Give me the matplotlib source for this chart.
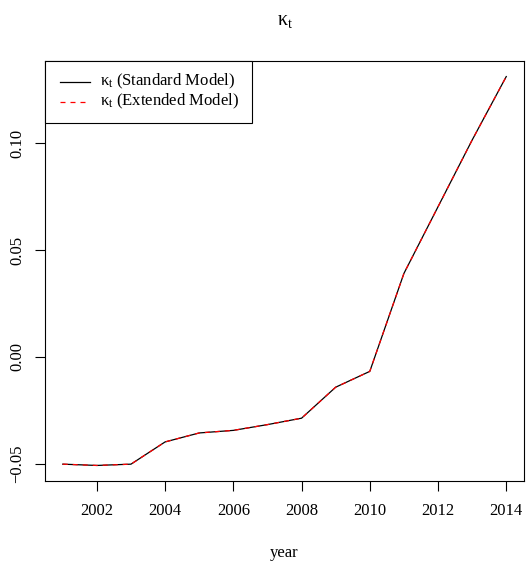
import matplotlib
matplotlib.use("Agg")
import matplotlib.pyplot as plt
from matplotlib.lines import Line2D
from matplotlib.patches import Rectangle

plt.rcParams['font.family'] = ['Liberation Serif', 'DejaVu Serif']
plt.rcParams['mathtext.fontset'] = 'custom'
plt.rcParams['mathtext.rm'] = 'Liberation Serif'
plt.rcParams['mathtext.it'] = 'Liberation Serif'
plt.rcParams['mathtext.bf'] = 'Liberation Serif:bold'

years = list(range(2001, 2015))
kappa_standard = [-0.0502, -0.0508, -0.0502, -0.0398, -0.0356, -0.0344, -0.0317,
                  -0.0287, -0.0142, -0.0068, 0.0390, 0.0702, 0.1014, 0.1311]
kappa_extended = [-0.0502, -0.0508, -0.0502, -0.0398, -0.0356, -0.0344, -0.0317,
                  -0.0287, -0.0142, -0.0068, 0.0390, 0.0702, 0.1014, 0.1311]
xticks = [2002, 2004, 2006, 2008, 2010, 2012, 2014]
yticks = [-0.05, 0.00, 0.05, 0.10]
ytick_labels = ["-0.05", "0.00", "0.05", "0.10"]
legend_labels = [r'$\kappa_t$ (Standard Model)', r'$\kappa_t$ (Extended Model)']

W, H = 526, 567
FS = 12
fig = plt.figure(figsize=(W / 100, H / 100), dpi=100)
ax = fig.add_axes([45 / W, 1 - 481 / H, (524 - 45) / W, (481 - 61) / H])

ax.plot(years, kappa_standard, color='black', lw=0.9, solid_joinstyle='round')
ax.plot(years, kappa_extended, color='red', lw=0.9, linestyle=(0, (4, 4)))

xmin, xmax = min(years), max(years)
xr = xmax - xmin
ax.set_xlim(xmin - 0.04 * xr, xmax + 0.04 * xr)
allv = kappa_standard + kappa_extended
ymin, ymax = min(allv), max(allv)
yr = ymax - ymin
ax.set_ylim(ymin - 0.04 * yr, ymax + 0.04 * yr)

ax.set_xticks(xticks)
ax.set_xticklabels([str(x) for x in xticks], fontsize=FS)
ax.set_yticks(yticks)
ax.set_yticklabels([s.replace('-', '\u2212') for s in ytick_labels], fontsize=FS,
                   rotation=90, va='center')
ax.tick_params(direction='out', length=7, width=0.8)
ax.tick_params(axis='x', pad=9)
ax.tick_params(axis='y', pad=7)
for s in ax.spines.values():
    s.set_linewidth(0.8)

fig.text(284.5 / W, 1 - 553 / H, 'year', ha='center', va='center', fontsize=FS)
fig.text(284.5 / W, 1 - 20 / H, r'$\kappa_t$', ha='center', va='center', fontsize=FS * 1.2)

# legend drawn in figure pixel coordinates
def fx(px):
    return px / W

def fy(py):
    return 1 - py / H

fig.add_artist(Rectangle((fx(45), fy(123)), fx(252) - fx(45), fy(61) - fy(123),
                         transform=fig.transFigure, fill=True, facecolor='white',
                         edgecolor='black', lw=0.8, zorder=5))
rows = [82, 102]
styles = [dict(color='black', lw=0.9, linestyle='-'),
          dict(color='red', lw=0.9, linestyle=(0, (4, 4)))]
for ry, st, lab in zip(rows, styles, legend_labels):
    fig.add_artist(Line2D([fx(60), fx(90)], [fy(ry), fy(ry)], transform=fig.transFigure,
                          zorder=6, **st))
    fig.text(fx(100), fy(ry - 1), lab, ha='left', va='center', fontsize=FS, zorder=6)

fig.savefig('out.png', dpi=100)
